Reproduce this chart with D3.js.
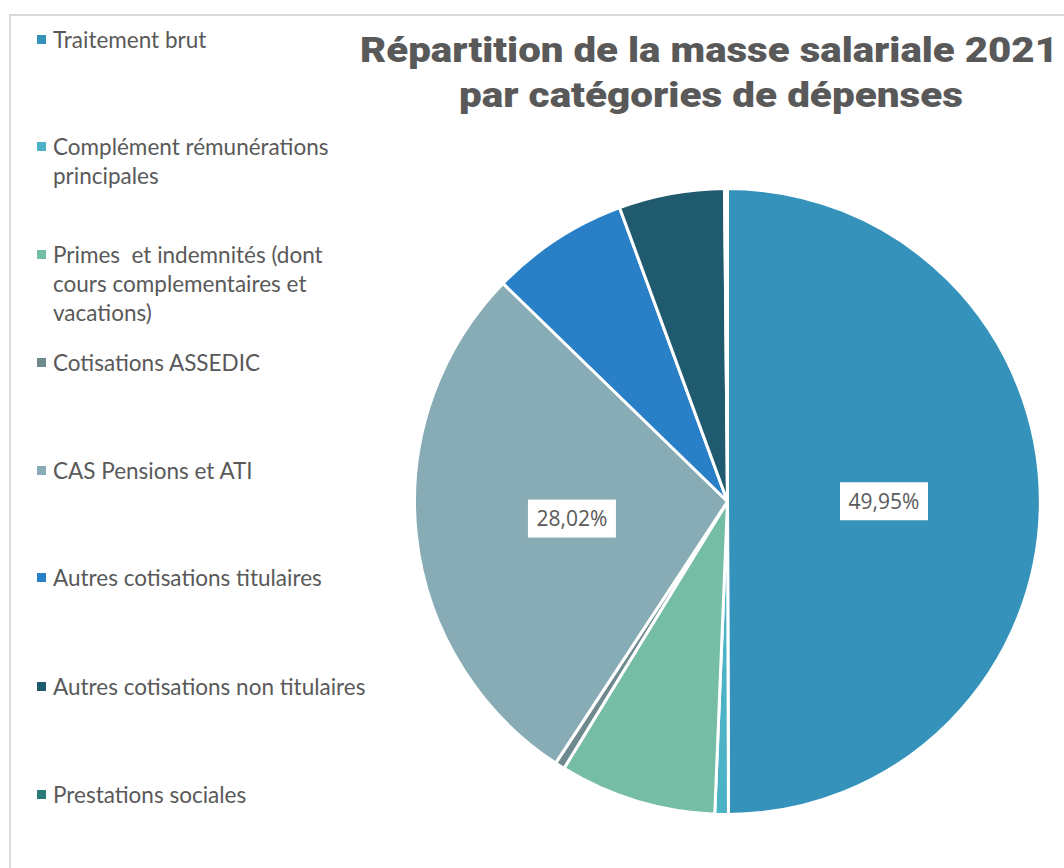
<!DOCTYPE html>
<html lang="fr">
<head>
<meta charset="utf-8">
<script src="https://cdn.jsdelivr.net/npm/d3@7"></script>
<style>
  html, body { margin: 0; padding: 0; background: #ffffff; }
  svg { display: block; }
  svg text { white-space: pre; }
</style>
</head>
<body>
<svg id="chart" width="1064" height="868"></svg>
<script>
// Expense categories and their share of the 2021 payroll (%)
const categories = [
  "Traitement brut",
  "Complément rémunérations principales",
  "Primes  et indemnités (dont cours complementaires et vacations)",
  "Cotisations ASSEDIC",
  "CAS Pensions et ATI",
  "Autres cotisations titulaires",
  "Autres cotisations non titulaires",
  "Prestations sociales"
];
const shares = [49.95, 0.70, 8.10, 0.50, 28.02, 7.13, 5.45, 0.15];

// Legend text, already broken into lines
const legendLines = [
  ["Traitement brut"],
  ["Complément rémunérations", "principales"],
  ["Primes  et indemnités (dont", "cours complementaires et", "vacations)"],
  ["Cotisations ASSEDIC"],
  ["CAS Pensions et ATI"],
  ["Autres cotisations titulaires"],
  ["Autres cotisations non titulaires"],
  ["Prestations sociales"]
];

const palette = ["#3593bb", "#4cb3c7", "#76bda6", "#6f8a8e", "#87acb5", "#2a80c7", "#1f5a6f", "#2a7a7a"];
const titleLines = ["Répartition de la masse salariale 2021", "par catégories de dépenses"];
const labelledSlices = [0, 4];

const svg = d3.select("#chart");
const textColor = "#595959";

// Chart frame
svg.append("path")
  .attr("d", "M10,868 V15 H1064")
  .attr("fill", "none")
  .attr("stroke", "#d9d9d9")
  .attr("stroke-width", 2);

// Title
const title = svg.append("g").attr("font-family", "Roboto, 'Open Sans', sans-serif")
  .attr("font-weight", 900).attr("fill", textColor).attr("text-anchor", "middle");
const titleWidths = [698, 504];
titleLines.forEach((t, i) => {
  title.append("text")
    .attr("x", 709 + (i === 1 ? 2 : 0))
    .attr("y", 62 + i * 45)
    .attr("font-size", 35)
    .attr("textLength", titleWidths[i])
    .attr("lengthAdjust", "spacingAndGlyphs")
    .text(t);
});

// Pie
const cx = 727.5, cy = 501.5, R = 313;
const color = d3.scaleOrdinal().domain(categories).range(palette);
const pie = d3.pie().sort(null).value(d => d.value);
const arcs = pie(categories.map((c, i) => ({ name: c, value: shares[i], idx: i })));
const arc = d3.arc().innerRadius(0).outerRadius(R);
const labelArc = d3.arc().innerRadius(R * 0.5).outerRadius(R * 0.5);

const g = svg.append("g").attr("transform", `translate(${cx},${cy})`);
g.selectAll("path.slice")
  .data(arcs)
  .join("path")
  .attr("class", "slice")
  .attr("d", arc)
  .attr("fill", d => color(d.data.name))
  .attr("stroke", "#ffffff")
  .attr("stroke-width", 3)
  .attr("stroke-linejoin", "round");

// Value labels in white boxes
const total = d3.sum(shares);
const fmt = v => d3.format(".2f")(v).replace(".", ",") + "%";
const labels = g.selectAll("g.label")
  .data(arcs.filter(d => labelledSlices.includes(d.data.idx)))
  .join("g")
  .attr("class", "label")
  .attr("transform", d => `translate(${labelArc.centroid(d)})`);
labels.append("rect")
  .attr("x", -44).attr("y", -19).attr("width", 88).attr("height", 38)
  .attr("fill", "#ffffff");
labels.append("text")
  .attr("text-anchor", "middle")
  .attr("dy", "0.35em")
  .attr("font-family", "'Open Sans', 'Noto Sans', sans-serif")
  .attr("font-size", 21)
  .attr("fill", textColor)
  .text(d => fmt(d.data.value / total * 100));

// Legend
const legendTops = [40, 147, 255, 363, 471, 578, 687, 795];
const legend = svg.append("g")
  .attr("font-family", "Lato, 'Open Sans', sans-serif")
  .attr("font-size", 22.5)
  .attr("fill", textColor);
categories.forEach((c, i) => {
  const item = legend.append("g").attr("transform", `translate(0,${legendTops[i]})`);
  item.append("rect")
    .attr("x", 37).attr("y", -5).attr("width", 9).attr("height", 9)
    .attr("fill", color(c));
  legendLines[i].forEach((line, j) => {
    item.append("text")
      .attr("x", 53)
      .attr("y", j * 29)
      .attr("dy", "0.35em")
      .text(line);
  });
});
</script>
</body>
</html>
